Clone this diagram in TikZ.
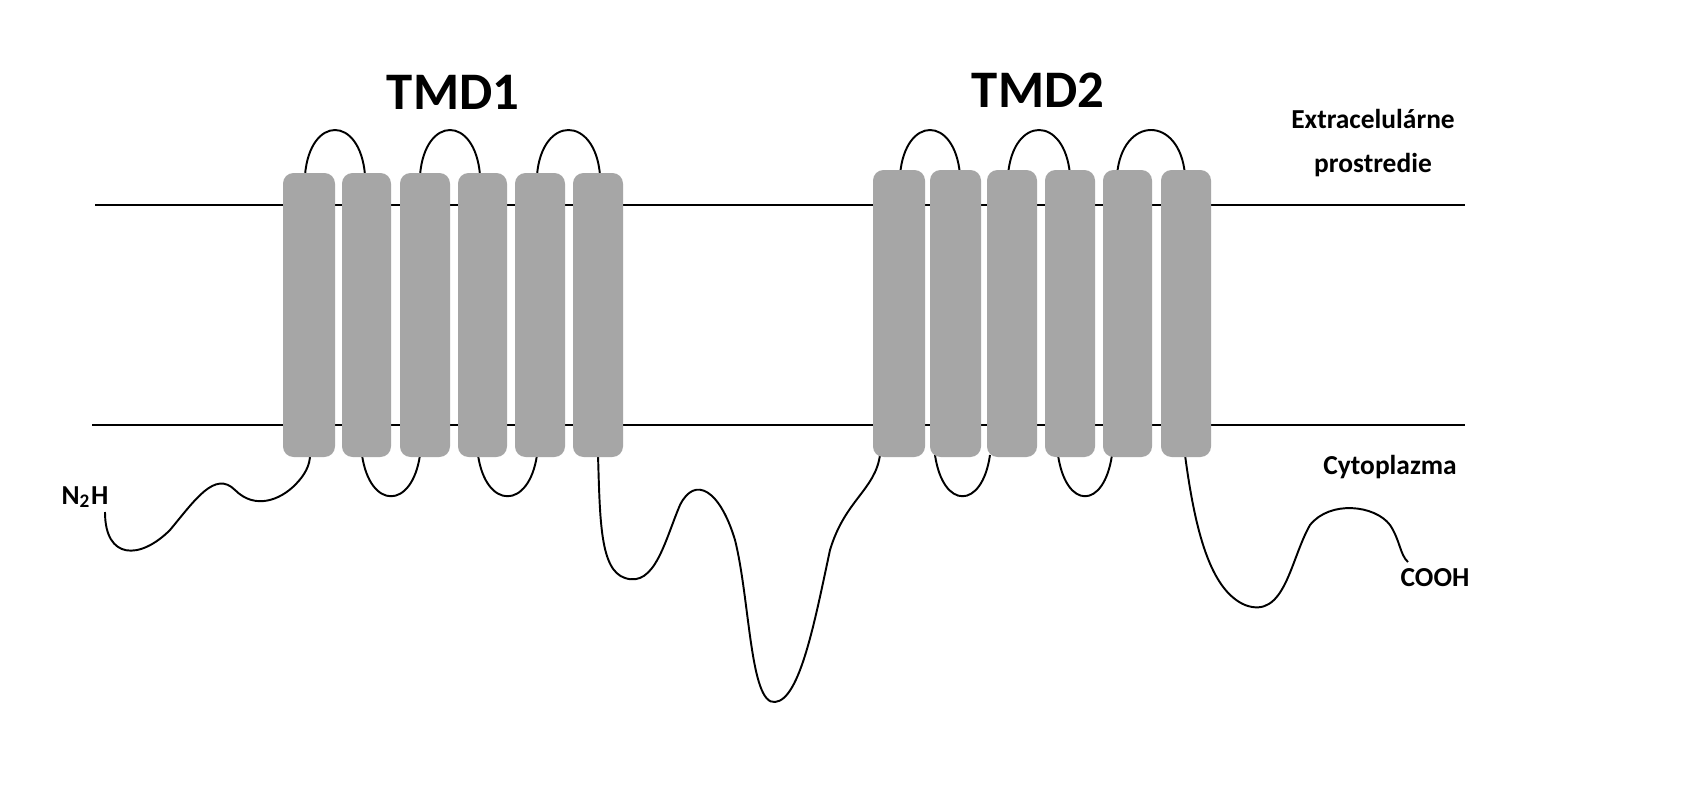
\documentclass[tikz,border=0pt]{standalone}
\usepackage{fontspec}
\setmainfont{Carlito}
\begin{document}
\begin{tikzpicture}[x=0.01cm,y=-0.01cm,
  tm/.style={fill=tmgray,draw=none,rounded corners=3pt},
  ln/.style={line width=0.7pt},
  lp/.style={line width=0.55pt},
  big/.style={font=\bfseries\fontsize{15}{17}\selectfont},
  lab/.style={font=\bfseries\fontsize{7.8}{9.5}\selectfont}]
\definecolor{tmgray}{HTML}{A6A6A6}
\useasboundingbox (0,0) rectangle (1682,800);
\fill[white] (0,0) rectangle (1682,800);
% membrane lines
\draw[ln] (95,205) -- (1465,205);
\draw[ln] (92,425) -- (1465,425);
% loops above
\foreach \a/\b in {305/365,420/480,537/600,900/960,1008/1070,1117/1185}{
  \draw[lp] (\a,175) .. controls (\a+5,115) and (\b-5,115) .. (\b,175);}
% loops below
\foreach \a/\b in {362/420,478/537,935/990,1058/1112}{
  \draw[lp] (\a,455) .. controls (\a+8,510) and (\b-8,510) .. (\b,455);}
% tails
\draw[lp] (105,512) .. controls (105,560) and (140,560) .. (170,530)
  .. controls (195,500) and (215,470) .. (235,490)
  .. controls (255,510) and (280,500) .. (295,485)
  .. controls (305,475) and (310,465) .. (310,455);
\draw[lp] (598,455) .. controls (600,520) and (600,570) .. (625,578)
  .. controls (655,588) and (665,540) .. (680,505)
  .. controls (695,475) and (720,490) .. (735,540)
  .. controls (750,600) and (750,705) .. (775,702)
  .. controls (800,700) and (815,620) .. (830,550)
  .. controls (845,500) and (875,490) .. (880,455);
\draw[lp] (1185,455) .. controls (1195,530) and (1210,590) .. (1245,605)
  .. controls (1285,620) and (1290,560) .. (1310,525)
  .. controls (1330,500) and (1375,505) .. (1390,525)
  .. controls (1400,540) and (1400,555) .. (1408,562);
% TM boxes
\foreach \x/\w in {283/52,342/49,400/50,458/49,515/50,573/50}{
  \fill[tm] (\x,173) rectangle (\x+\w,457);}
\foreach \x/\w in {873/52,930/51,987/50,1045/50,1103/49,1161/50}{
  \fill[tm] (\x,170) rectangle (\x+\w,457);}
% labels
\node[big] (t1) at (453,92) {TMD1};
\node[big] (t2) at (1038,90) {TMD2};
\node[lab,align=center] (ex) at (1373,143) {Extracelulárne\\[3pt]prostredie};
\node[lab] (cy) at (1390,467) {Cytoplazma};
\node[lab] (nh) at (85,497) {N\textsubscript{2}H};
\node[lab] (co) at (1435,578) {COOH};
\end{tikzpicture}
\end{document}
